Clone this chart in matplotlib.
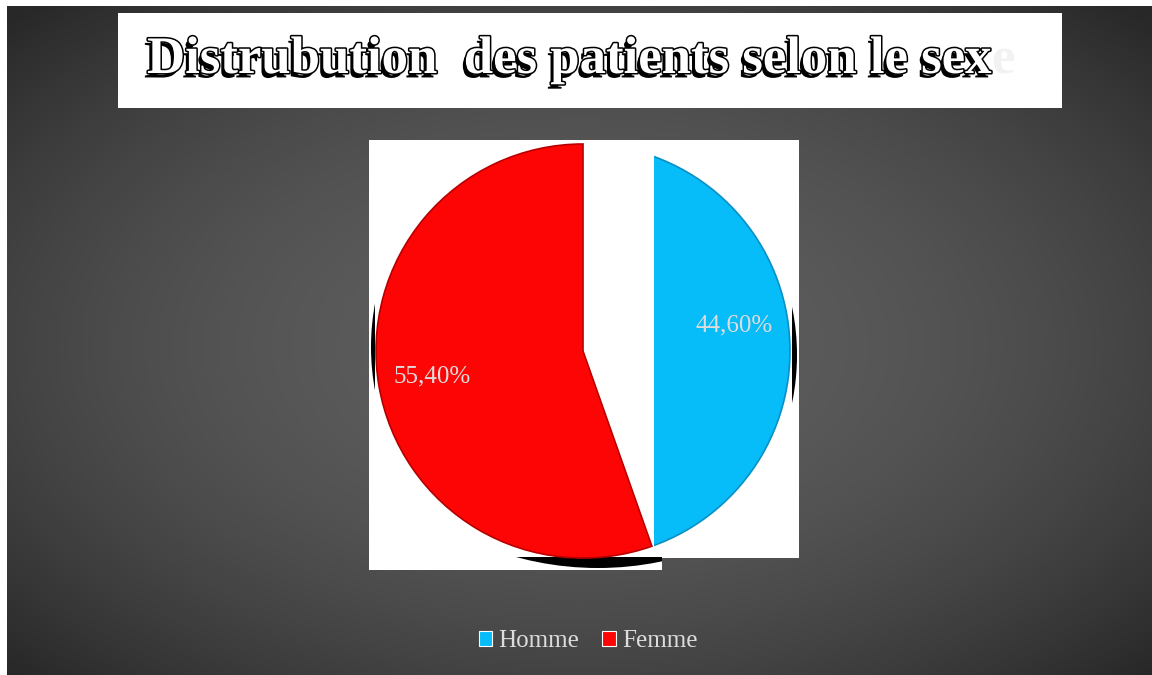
import matplotlib
matplotlib.use('Agg')
import matplotlib.pyplot as plt
import matplotlib.patches as mpatches
import matplotlib.patheffects as pe
import numpy as np

# data
labels = ['Homme', 'Femme']
values = [44.6, 55.4]
colors = ['#06bcf9', '#fe0505']
edges = ['#0a8fc4', '#b80000']
title = 'Distrubution  des patients selon le sex'

W, H = 1152, 675
SERIF = ['Liberation Serif', 'DejaVu Serif']
LIGHT = '#dcdcdc'

fig = plt.figure(figsize=(W / 100, H / 100), dpi=100)
fig.patch.set_facecolor('white')

# background axes in pixel coordinates
bg = fig.add_axes([0, 0, 1, 1])
bg.set_xlim(0, W)
bg.set_ylim(H, 0)
bg.axis('off')

# dark radial gradient panel
yy, xx = np.mgrid[6:H, 7:W]
d2 = ((xx - 580) / 576.0) ** 2 + ((yy - 345) / 335.0) ** 2
c = np.clip(94 - 28 * d2, 40, 255) / 255.0
img = np.dstack([c, c, c])
bg.imshow(img, extent=(7, W, H, 6), aspect='auto', interpolation='bilinear', zorder=0)

# title box
bg.add_patch(mpatches.Rectangle((118, 13), 944, 95, facecolor='white', edgecolor='none', zorder=1))
t1 = bg.text(147, 73, title, fontsize=38, fontweight='bold', family=SERIF, color='white',
             ha='left', va='baseline', zorder=3,
             path_effects=[pe.SimplePatchShadow(offset=(-2.2, -3.2), shadow_rgbFace='black', alpha=1.0),
                           pe.Stroke(linewidth=2.2, foreground='black'), pe.Normal()])
bg.annotate('e', xy=(1, 0), xycoords=t1, fontsize=38, fontweight='bold', family=SERIF,
            color='#f2f2f2', ha='left', va='bottom', zorder=3)

# white plot-area boxes behind the pie
bg.add_patch(mpatches.Rectangle((369, 140), 430, 418, facecolor='white', edgecolor='none', zorder=1))
bg.add_patch(mpatches.Rectangle((369, 140), 293, 430, facecolor='white', edgecolor='none', zorder=1))

# black shadow slivers: (circle centre, radius, clip rect x, y, w, h)
slivers = [((608, 347), 237, (369, 280, 6, 130)),
           ((560, 355), 237, (792, 280, 7, 130)),
           ((598, 257), 311, (369, 557, 293, 13))]
for (sx, sy), rad, (rx, ry, rw, rh) in slivers:
    circ = mpatches.Circle((sx, sy), rad, facecolor='black', edgecolor='none', zorder=2)
    bg.add_patch(circ)
    circ.set_clip_path(mpatches.Rectangle((rx, ry), rw, rh, transform=bg.transData))

# pie axes: centre (583, 351), radius 207 px, limits +-1.1
R, CX, CY, LIM = 207, 583, 351, 1.1
side = 2 * LIM * R
pax = fig.add_axes([(CX - LIM * R) / W, (H - CY - LIM * R) / H, side / W, side / H])

fmt = lambda p: f'{p:.2f}%'.replace('.', ',')
wedges, texts, autotexts = pax.pie(values, colors=colors, startangle=90, counterclock=False,
                                   autopct=fmt, pctdistance=0.74, radius=1,
                                   wedgeprops=dict(linewidth=1.2),
                                   textprops=dict(color=LIGHT, fontsize=18, family=SERIF))
pax.set_xlim(-LIM, LIM)
pax.set_ylim(-LIM, LIM)
pax.axis('off')
for w, ec in zip(wedges, edges):
    w.set_edgecolor(ec)

# Homme slice cut on its left side, leaving a white gap
hw = wedges[0]
cut = mpatches.Rectangle(((654 - CX) / R, -LIM), 2 * LIM, 2 * LIM, transform=pax.transData)
hw.set_clip_on(True)
hw.set_clip_path(cut)

# legend
handles = [mpatches.Patch(facecolor=col, edgecolor='white', linewidth=0.8) for col in colors]
fig.legend(handles, labels, loc='center', bbox_to_anchor=(588 / W, 1 - 641 / H), ncol=2,
           frameon=False, prop=dict(family=SERIF, size=18), labelcolor=LIGHT,
           handlelength=0.55, handleheight=0.55, handletextpad=0.25, columnspacing=0.9)

plt.savefig('out.png', dpi=100)
plt.close()
